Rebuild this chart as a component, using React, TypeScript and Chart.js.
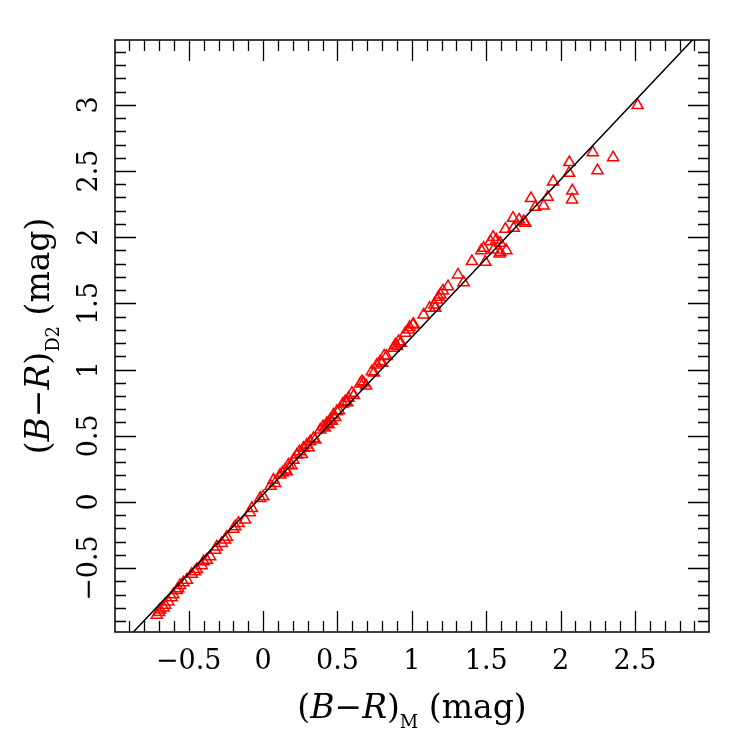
import React, { useEffect, useRef } from 'react';
import { Chart, registerables } from 'chart.js';

Chart.register(...registerables);

// (B-R)_M values (x) and (B-R)_D2 values (y)
const bmM = [
  -0.715, -0.700, -0.693, -0.670, -0.659, -0.637, -0.615, -0.604, -0.581, -0.570,
  -0.559, -0.536, -0.513, -0.480, -0.458, -0.446, -0.413, -0.400, -0.379, -0.357,
  -0.323, -0.312, -0.278, -0.256, -0.244, -0.200, -0.188, -0.166, -0.121, -0.090,
  -0.076, -0.020, 0.000, 0.050, 0.070, 0.080, 0.114, 0.130, 0.148, 0.159,
  0.170, 0.190, 0.204, 0.227, 0.244, 0.260, 0.271, 0.294, 0.305, 0.316,
  0.339, 0.350, 0.384, 0.402, 0.415, 0.429, 0.440, 0.451, 0.462, 0.473,
  0.485, 0.496, 0.510, 0.536, 0.552, 0.565, 0.574, 0.597, 0.610, 0.653,
  0.664, 0.675, 0.693, 0.731, 0.745, 0.765, 0.787, 0.800, 0.814, 0.830,
  0.877, 0.888, 0.900, 0.911, 0.925, 0.956, 0.978, 0.985, 1.007, 1.011,
  1.079, 1.119, 1.151, 1.157, 1.169, 1.180, 1.191, 1.209, 1.243, 1.310,
  1.348, 1.404, 1.467, 1.483, 1.494, 1.528, 1.546, 1.550, 1.568, 1.590,
  1.595, 1.595, 1.629, 1.635, 1.680, 1.685, 1.721, 1.752, 1.763, 1.801,
  1.830, 1.886, 1.913, 1.950, 2.057, 2.059, 2.077, 2.079, 2.216, 2.248,
  2.353, 2.518,
];
const bmD2 = [
  -0.854, -0.835, -0.816, -0.800, -0.779, -0.754, -0.722, -0.700, -0.668, -0.655,
  -0.630, -0.610, -0.590, -0.545, -0.527, -0.510, -0.480, -0.450, -0.440, -0.413,
  -0.363, -0.340, -0.312, -0.287, -0.265, -0.205, -0.187, -0.161, -0.136, -0.080,
  -0.048, 0.028, 0.040, 0.120, 0.166, 0.140, 0.204, 0.220, 0.242, 0.229,
  0.280, 0.275, 0.317, 0.355, 0.380, 0.360, 0.406, 0.431, 0.410, 0.456,
  0.481, 0.470, 0.544, 0.569, 0.560, 0.595, 0.585, 0.620, 0.610, 0.658,
  0.640, 0.683, 0.690, 0.741, 0.758, 0.750, 0.784, 0.822, 0.805, 0.892,
  0.909, 0.900, 0.877, 0.985, 0.975, 1.036, 1.060, 1.050, 1.104, 1.100,
  1.162, 1.187, 1.175, 1.212, 1.200, 1.275, 1.300, 1.320, 1.338, 1.343,
  1.413, 1.464, 1.489, 1.464, 1.527, 1.547, 1.565, 1.595, 1.627, 1.716,
  1.658, 1.817, 1.900, 1.918, 1.812, 1.968, 2.001, 1.905, 1.980, 1.875,
  1.955, 1.885, 2.061, 1.900, 2.144, 2.069, 2.131, 2.119, 2.107, 2.293,
  2.227, 2.237, 2.303, 2.419, 2.484, 2.565, 2.283, 2.351, 2.640, 2.504,
  2.602, 2.996,
];

// reference relation drawn as a straight line
const fitSlope = 1.19;
const fitIntercept = 0.055;
const fitX = [-1.2, 3.2];

const xRange = [-0.996, 2.998];
const yRange = [-0.983, 3.49];
const xLabelValues = [-0.5, 0, 0.5, 1, 1.5, 2, 2.5];
const yLabelValues = [-0.5, 0, 0.5, 1, 1.5, 2, 2.5, 3];

const FONT = 'DejaVu Serif';

const fmt = (v: number) => (v < 0 ? '\u2212' + String(Math.abs(v)) : String(v));

type Part = { text: string; font: string; dy: number };

function drawRich(ctx: CanvasRenderingContext2D, parts: Part[], cx: number, cy: number, angle: number) {
  ctx.save();
  ctx.translate(cx, cy);
  ctx.rotate(angle);
  ctx.textAlign = 'left';
  ctx.textBaseline = 'alphabetic';
  ctx.fillStyle = '#000';
  const widths = parts.map((p) => {
    ctx.font = p.font;
    return ctx.measureText(p.text).width;
  });
  const total = widths.reduce((a, b) => a + b, 0);
  let x = -total / 2;
  parts.forEach((p, i) => {
    ctx.font = p.font;
    ctx.fillText(p.text, x, p.dy);
    x += widths[i];
  });
  ctx.restore();
}

function titleParts(sub: string): Part[] {
  const n = `33px "${FONT}"`;
  const it = `italic 33px "${FONT}"`;
  const s = `18px "${FONT}"`;
  return [
    { text: '(', font: n, dy: 0 },
    { text: 'B', font: it, dy: 0 },
    { text: '\u2212', font: n, dy: 0 },
    { text: 'R', font: it, dy: 0 },
    { text: ')', font: n, dy: 0 },
    { text: sub, font: s, dy: 10 },
    { text: ' (mag)', font: n, dy: 0 },
  ];
}

const framePlugin = {
  id: 'frameTicks',
  afterDraw(chart: any) {
    const { ctx, chartArea: a, scales } = chart;
    const xs = scales.x;
    const ys = scales.y;
    ctx.save();
    ctx.strokeStyle = '#000';
    ctx.lineWidth = 1.5;
    ctx.strokeRect(a.left, a.top, a.right - a.left, a.bottom - a.top);
    ctx.lineWidth = 1.3;
    ctx.beginPath();
    for (let i = Math.ceil(xs.min * 10); i <= Math.floor(xs.max * 10); i++) {
      const p = Math.round(xs.getPixelForValue(i / 10)) + 0.5;
      const L = i % 5 === 0 ? 21 : 11;
      ctx.moveTo(p, a.bottom);
      ctx.lineTo(p, a.bottom - L);
      ctx.moveTo(p, a.top);
      ctx.lineTo(p, a.top + L);
    }
    for (let i = Math.ceil(ys.min * 10); i <= Math.floor(ys.max * 10); i++) {
      const p = Math.round(ys.getPixelForValue(i / 10)) + 0.5;
      const L = i % 5 === 0 ? 21 : 11;
      ctx.moveTo(a.left, p);
      ctx.lineTo(a.left + L, p);
      ctx.moveTo(a.right, p);
      ctx.lineTo(a.right - L, p);
    }
    ctx.stroke();
    ctx.restore();
    drawRich(ctx, titleParts('M'), (a.left + a.right) / 2, 718, 0);
    drawRich(ctx, titleParts('D2'), 49, (a.top + a.bottom) / 2, -Math.PI / 2);
  },
};

export default function App() {
  const ref = useRef<HTMLCanvasElement>(null);
  useEffect(() => {
    if (!ref.current) return;
    const points = bmM.map((x, i) => ({ x, y: bmD2[i] }));
    const line = fitX.map((x) => ({ x, y: fitIntercept + fitSlope * x }));
    const chart = new Chart(ref.current, {
      type: 'scatter',
      data: {
        datasets: [
          {
            type: 'line',
            data: line,
            borderColor: '#000',
            borderWidth: 1.5,
            pointRadius: 0,
            fill: false,
            tension: 0,
          } as any,
          {
            data: points,
            pointStyle: 'triangle',
            pointRadius: 6.4,
            pointBackgroundColor: 'rgba(0,0,0,0)',
            pointBorderColor: '#ff0000',
            pointBorderWidth: 1.5,
            showLine: false,
          },
        ],
      },
      plugins: [framePlugin],
      options: {
        animation: false,
        responsive: false,
        devicePixelRatio: 1,
        layout: { padding: { top: 40, right: 38, left: 0, bottom: 0 } },
        plugins: { legend: { display: false }, tooltip: { enabled: false }, title: { display: false } },
        scales: {
          x: {
            type: 'linear',
            position: 'bottom',
            min: xRange[0],
            max: xRange[1],
            grid: { display: false, drawTicks: false },
            border: { display: false },
            afterBuildTicks: (s: any) => {
              s.ticks = xLabelValues.map((v) => ({ value: v }));
            },
            afterFit: (s: any) => {
              s.height = 115;
            },
            ticks: {
              includeBounds: false,
              autoSkip: false,
              maxRotation: 0,
              minRotation: 0,
              padding: 14,
              color: '#000',
              font: { family: FONT, size: 27 },
              callback: (v: any) => fmt(Number(v)),
            },
          },
          y: {
            type: 'linear',
            position: 'left',
            min: yRange[0],
            max: yRange[1],
            grid: { display: false, drawTicks: false },
            border: { display: false },
            afterBuildTicks: (s: any) => {
              s.ticks = yLabelValues.map((v) => ({ value: v }));
            },
            afterFit: (s: any) => {
              s.width = 115;
            },
            ticks: {
              includeBounds: false,
              autoSkip: false,
              minRotation: 90,
              maxRotation: 90,
              crossAlign: 'center',
              padding: -8,
              color: '#000',
              font: { family: FONT, size: 27 },
              callback: (v: any) => fmt(Number(v)),
            },
          },
        },
      },
    });
    return () => chart.destroy();
  }, []);
  return (
    <div style={{ position: 'absolute', left: 0, top: 0, width: 747, height: 747, background: '#fff' }}>
      <canvas ref={ref} width={747} height={747} style={{ display: 'block' }} />
    </div>
  );
}
